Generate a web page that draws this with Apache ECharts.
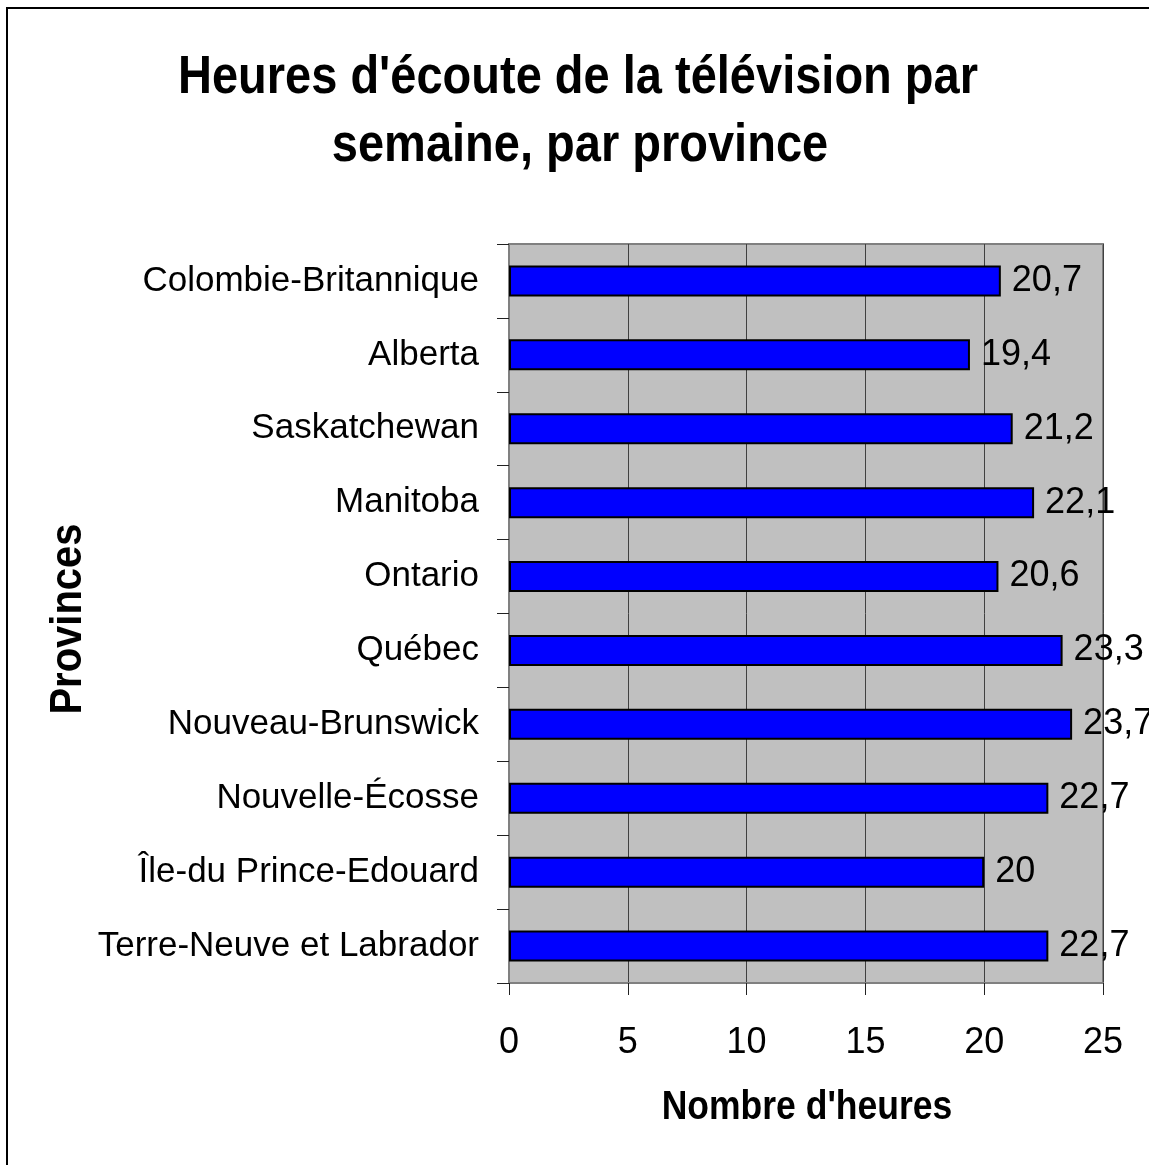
<!DOCTYPE html>
<html>
<head>
<meta charset="utf-8">
<script src="https://cdn.jsdelivr.net/npm/echarts@6/dist/echarts.min.js"></script>
<style>
  html, body { margin: 0; padding: 0; background: #fff; }
  #wrap { position: relative; width: 1149px; height: 1165px; overflow: hidden; }
  #frame { position: absolute; left: 6px; top: 7px; width: 2000px; height: 2000px;
           border-top: 2px solid #000; border-left: 2px solid #000; box-sizing: border-box; pointer-events: none; }
  #chart { position: absolute; left: 0; top: 0; width: 1149px; height: 1165px; }
</style>
</head>
<body>
<div id="wrap">
  <div id="chart"></div>
  <div id="frame"></div>
</div>
<script>
// Data (top-to-bottom order as shown)
const provinces = [
  'Colombie-Britannique',
  'Alberta',
  'Saskatchewan',
  'Manitoba',
  'Ontario',
  'Québec',
  'Nouveau-Brunswick',
  'Nouvelle-Écosse',
  'Île-du Prince-Edouard',
  'Terre-Neuve et Labrador'
];
const heures = [20.7, 19.4, 21.2, 22.1, 20.6, 23.3, 23.7, 22.7, 20, 22.7];
const xTicks = [0, 5, 10, 15, 20, 25];

const titleLines = ["Heures d'écoute de la télévision par", 'semaine, par province'];
const xAxisTitle = "Nombre d'heures";
const yAxisTitle = 'Provinces';

const FONT = "'Liberation Sans', Arial, Helvetica, sans-serif";

const chart = echarts.init(document.getElementById('chart'), null, { renderer: 'canvas' });

function boldText(text, x, y, size, rot, scale) {
  return {
    type: 'text',
    x: x, y: y,
    rotation: rot,
    scaleX: scale[0], scaleY: scale[1],
    style: {
      text: text,
      fontFamily: FONT,
      fontWeight: 'bold',
      fontSize: size,
      fill: '#000',
      align: 'center',
      verticalAlign: 'middle'
    }
  };
}

const option = {
  backgroundColor: 'transparent',
  animation: false,
  grid: {
    left: 509,
    top: 244,
    width: 594,
    height: 739,
    show: true,
    backgroundColor: '#C0C0C0',
    borderColor: '#808080',
    borderWidth: 2,
    containLabel: false
  },
  xAxis: {
    type: 'value',
    min: xTicks[0],
    max: xTicks[xTicks.length - 1],
    interval: xTicks[1] - xTicks[0],
    axisLine: { show: true, lineStyle: { color: '#808080', width: 2 } },
    axisTick: { show: true, length: 12, lineStyle: { color: '#222', width: 1 } },
    axisLabel: {
      margin: 42,
      fontFamily: FONT,
      fontSize: 36,
      color: '#000',
      formatter: v => String(v)
    },
    splitLine: { show: true, lineStyle: { color: '#404040', width: 1 } }
  },
  yAxis: {
    type: 'category',
    data: provinces,
    inverse: true,
    axisLine: { show: true, lineStyle: { color: '#808080', width: 2 } },
    axisTick: { show: true, length: 12, lineStyle: { color: '#222', width: 1 } },
    axisLabel: {
      margin: 30,
      fontFamily: FONT,
      fontSize: 35,
      color: '#000'
    },
    splitLine: { show: false }
  },
  series: [{
    type: 'bar',
    data: heures,
    barWidth: 31,
    itemStyle: { color: '#0000FF', borderColor: '#000', borderWidth: 2 },
    label: {
      show: true,
      position: 'right',
      distance: 11,
      fontFamily: FONT,
      fontSize: 36,
      color: '#000',
      formatter: p => String(p.value).replace('.', ',')
    }
  }],
  graphic: [
    boldText(titleLines[0], 578, 78, 47, 0, [1, 1.15]),
    boldText(titleLines[1], 580, 146, 47, 0, [1, 1.15]),
    boldText(yAxisTitle, 69, 619, 40, Math.PI / 2, [1, 1.1]),
    boldText(xAxisTitle, 807, 1108, 35.5, 0, [1, 1.13])
  ]
};

chart.setOption(option);
</script>
</body>
</html>
